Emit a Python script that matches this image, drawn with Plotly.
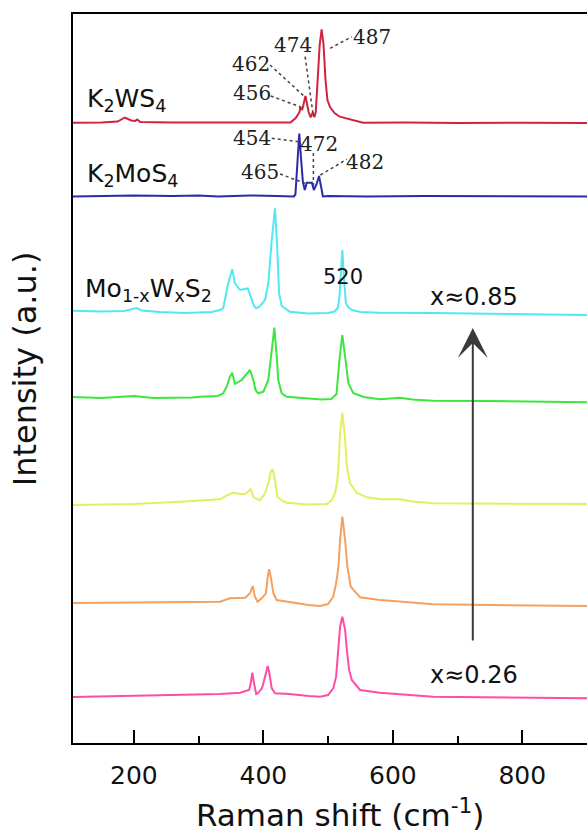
import plotly.graph_objects as go

# ---------------- data (Raman shift in cm^-1, intensity in a.u., baseline-relative) -------------
names = ["K2WS4", "K2MoS4", "x=0.85", "x=0.68", "x=0.52", "x=0.39", "x=0.26"]
colors = ["#D2233C", "#2B2BA6", "#50E8F2", "#3DE63D", "#E4EF5C", "#F4A060", "#FF4DA6"]
offsets = [620, 546.5, 430, 344, 239, 140, 48]

k2ws4_x = [106, 150, 175, 186, 196, 202, 205, 210, 260, 320, 380, 442, 450, 456, 457, 460, 465, 470,
           473, 476, 479, 481, 484, 487, 490, 493, 496, 499, 503, 510, 518, 534, 554, 620, 700, 800, 900]
k2ws4_y = [0.3, 0.5, 1.5, 5.5, 2.5, 2, 3.5, 1, 0.5, 0.2, 0.5, 0.5, 5, 11, 16, 13, 27, 11,
           5.5, 10.5, 6, 11, 43, 78, 93.7, 78, 43, 23, 16, 10, 6.3, 3.7, 0.3, 0.5, 0, 0.3, 0]

k2mos4_x = [106, 150, 200, 260, 300, 330, 380, 420, 447, 449.5, 452, 455.5, 458, 461, 464, 467, 471,
            475, 478, 482, 486, 489, 492, 500, 560, 650, 750, 900]
k2mos4_y = [0, 0.5, 1, 0.5, 1, 0, 1, 0.5, 0, 2, 30, 63, 40, 15, 6.5, 13.8, 13.8,
            13.8, 6.5, 12, 20.5, 10, 0, 0.5, 0, 0.5, 0, 0]

s085_x = [106, 150, 185, 204, 212, 240, 280, 320, 333, 338, 345.7, 352, 356, 364, 371, 376, 380.5,
          385.6, 389, 395, 402.6, 407.7, 413, 418, 421.6, 424.3, 428.4, 441, 470, 500, 510, 515,
          517.5, 520, 522, 524, 527.4, 531, 537, 550, 580, 660, 750, 900]
s085_y = [2.3, 1.5, 2, 5, 2.5, 1, 0, 1, 3, 4.7, 29.7, 43.7, 30, 23, 24, 24.7, 16.3,
          7, 4.7, 7, 13, 30, 73, 104.7, 63, 19.7, 7, 1.3, -0.5, 0, 1.5, 5,
          16, 40, 63, 40, 10, 6, 3, 1, 0.3, 0, -1, -2]

s068_x = [106, 150, 200, 230, 290, 302, 330, 338, 343.4, 348.5, 352, 356, 366.6, 374.4, 379.4,
          384.5, 388, 392, 400, 407.7, 413, 417, 420.7, 423, 428.4, 436, 460, 490, 505, 513,
          517.5, 522, 526.3, 531.4, 539, 555, 580, 611, 630, 662, 750, 900]
s068_y = [2, 1, 3, 1, 1.5, 2.3, 3, 5.7, 12.3, 22.3, 26.3, 15, 19, 25.7, 29,
          19, 9, 5.7, 7.3, 19, 49, 71.3, 42.3, 19, 5.7, 2.3, 1, -0.5, 0, 5,
          39, 64, 42.3, 15.7, 5.7, 2, -0.3, 1.3, -0.5, -1.7, -2, -3.3]

s052_x = [106, 200, 271, 333, 345, 353.6, 365, 372, 380.5, 385, 391, 395, 402.6, 407.7, 411.4,
          414.5, 418, 421.6, 430, 436, 470, 498, 505.7, 510.8, 514.4, 516, 518.5, 522, 526.3,
          529, 534, 544, 560, 580, 611, 630, 662, 900]
s052_y = [-1, 0, 2.3, 4.7, 9, 11.3, 10, 10, 14.7, 7, 4.7, 4, 10.7, 20.7, 32.3,
          34.7, 24, 7.3, 3, 1.3, -0.5, 0, 4, 10.7, 24, 37.3, 70.7, 91.3, 64,
          37.3, 20.7, 11.3, 6.7, 4.7, 4.7, 2.5, 0.7, 0]

s039_x = [106, 200, 271, 333, 348.5, 372, 379.4, 383.6, 387, 391, 397.5, 404, 406.8, 409, 411.4,
          415.5, 420.5, 440, 470, 487.6, 500, 508, 512.4, 516, 518.5, 522, 526.3, 529.8, 535,
          549.5, 580, 620, 662, 900]
s039_y = [0, 0.5, 0.3, 1.3, 4.7, 5.3, 9.7, 17, 6.3, 1.3, 4.7, 9.7, 26.3, 33.7, 26.3,
          9.7, 3, 1, -2, -3, -1, 6.3, 19.7, 36.3, 63, 86.3, 63, 36.3, 16.3,
          5.7, 3, 1, -1.3, -3]

s026_x = [106, 200, 271, 333, 364, 378, 380.5, 383, 385.6, 389, 392, 398, 400, 405, 406.8, 409.3,
          413, 418, 440, 470, 487.6, 500, 508, 512.4, 516, 518.5, 522, 526.3, 529, 532.5, 536.6,
          549.5, 580, 620, 662, 900]
s026_y = [-2, -0.5, 0, 1, 2.3, 5, 11.7, 22.3, 11.7, 1, 2, 7, 11.7, 26.7, 29, 21.7,
          6.7, 1.7, 1, -1, -1.7, 0, 6.7, 18.3, 45, 68.3, 78.3, 65, 45, 25, 15,
          5, 2.3, 0, -1.7, -3.3]

spectra_x = [k2ws4_x, k2mos4_x, s085_x, s068_x, s052_x, s039_x, s026_x]
spectra_y = [k2ws4_y, k2mos4_y, s085_y, s068_y, s052_y, s039_y, s026_y]

# peak labels: (text, label x, label y, leader start x, start y, end x, end y) in data units
peak_labels = [
    ("474", 446, 698, 464.5, 686.3, 477.3, 626.3),
    ("462", 381, 679, 410.4, 678, 466, 645),
    ("456", 382.5, 650, 411.4, 647, 457.8, 636),
    ("487", 568, 706, 503.1, 694.7, 536.6, 706.3),
    ("454", 382.5, 604.7, 413, 604.7, 454.1, 601.3),
    ("465", 395, 571.3, 425.8, 569, 464.5, 559.7),
    ("472", 486.4, 599, 477.3, 590, 477.3, 556.3),
    ("482", 557.2, 581.3, 488.1, 568, 528.9, 583.7),
]

x_range = [106, 899.9]
y_range = [0, 729]

fig = go.Figure()
for nm, c, off, xs, ys in zip(names, colors, offsets, spectra_x, spectra_y):
    fig.add_trace(go.Scatter(x=xs, y=[v + off for v in ys], mode="lines", name=nm,
                             line=dict(color=c, width=2), showlegend=False, hoverinfo="skip"))

shapes = []
annotations = []
for txt, lx, ly, x0, y0, x1, y1 in peak_labels:
    shapes.append(dict(type="line", xref="x", yref="y", x0=x0, y0=y0, x1=x1, y1=y1,
                       line=dict(color="#444444", width=1.5, dash="dot")))
    annotations.append(dict(x=lx, y=ly, xref="x", yref="y", text=txt, showarrow=False,
                            xanchor="center", yanchor="middle",
                            font=dict(family="DejaVu Serif", size=20, color="#222222")))

big = dict(family="DejaVu Sans", size=25, color="#111111")
annotations += [
    dict(x=124.6, y=643, xref="x", yref="y", text="K<sub>2</sub>WS<sub>4</sub>", showarrow=False,
         xanchor="left", yanchor="middle", font=big),
    dict(x=124.6, y=568, xref="x", yref="y", text="K<sub>2</sub>MoS<sub>4</sub>", showarrow=False,
         xanchor="left", yanchor="middle", font=big),
    dict(x=121.5, y=453, xref="x", yref="y", text="Mo<sub>1-x</sub>W<sub>x</sub>S<sub>2</sub>",
         showarrow=False, xanchor="left", yanchor="middle", font=big),
    dict(x=523.6, y=466, xref="x", yref="y", text="520", showarrow=False,
         xanchor="center", yanchor="middle",
         font=dict(family="DejaVu Sans", size=21, color="#111111")),
    dict(x=724.9, y=446, xref="x", yref="y", text="x≈0.85", showarrow=False,
         xanchor="center", yanchor="middle",
         font=dict(family="DejaVu Sans", size=24, color="#111111")),
    dict(x=724.9, y=68, xref="x", yref="y", text="x≈0.26", showarrow=False,
         xanchor="center", yanchor="middle",
         font=dict(family="DejaVu Sans", size=24, color="#111111")),
    dict(x=723.5, y=415, xref="x", yref="y", ax=723.5, ay=101, axref="x", ayref="y", text="",
         showarrow=True, arrowhead=3, arrowsize=2.5, arrowwidth=2, arrowcolor="#3a3a3a", standoff=0),
    dict(x=0.519, y=-0.096, xref="paper", yref="paper", text="Raman shift (cm<sup>-1</sup>)",
         showarrow=False, xanchor="center", yanchor="middle",
         font=dict(family="DejaVu Sans", size=31, color="#111111")),
    dict(x=-0.0934, y=0.514, xref="paper", yref="paper", text="Intensity (a.u.)", textangle=-90,
         showarrow=False, xanchor="center", yanchor="middle",
         font=dict(family="DejaVu Sans", size=32, color="#111111")),
]

fig.update_layout(
    width=587, height=835,
    margin=dict(l=73, r=0, t=14, b=92),
    paper_bgcolor="white", plot_bgcolor="white",
    shapes=shapes, annotations=annotations,
    xaxis=dict(range=x_range, showline=True, linecolor="black", linewidth=2, mirror=True,
               ticks="inside", tick0=0, dtick=200, ticklen=13, tickwidth=2, tickcolor="black",
               minor=dict(dtick=100, ticklen=7, tickwidth=2, tickcolor="black", ticks="inside"),
               showgrid=False, zeroline=False, ticklabelstandoff=9,
               tickfont=dict(family="DejaVu Sans", size=25, color="#111111")),
    yaxis=dict(range=y_range, showline=True, linecolor="black", linewidth=2, ticks="",
               showticklabels=False, showgrid=False, zeroline=False),
)

fig.write_html("out.html", config={"displayModeBar": False},
               post_script="document.body.style.margin='0';document.body.style.overflow='hidden';")
